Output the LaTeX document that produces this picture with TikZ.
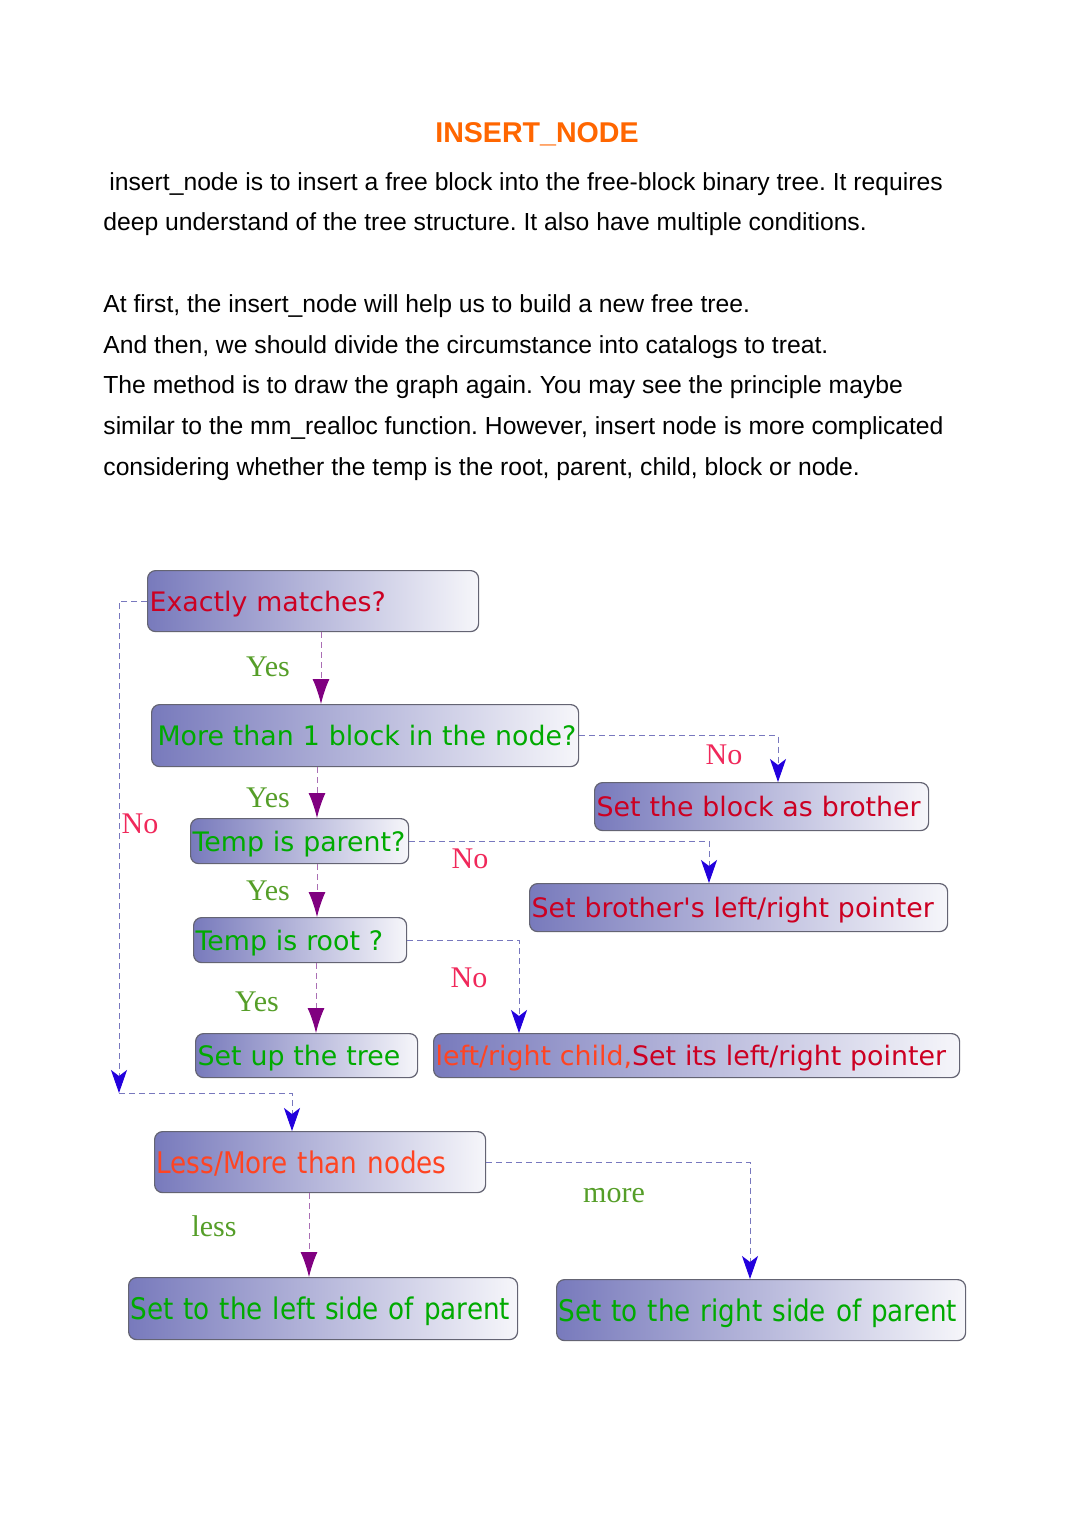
\documentclass[tikz,border=0pt]{standalone}
\usepackage{fontspec}
\setmainfont{Liberation Sans}
\newfontfamily\boxfont{DejaVu Sans}
\newfontfamily\condfont[FakeStretch=0.88]{DejaVu Sans}
\newfontfamily\labfont{Liberation Serif}
\usetikzlibrary{arrows.meta}
\definecolor{titleorange}{RGB}{255,102,0}
\definecolor{boxred}{RGB}{204,0,34}
\definecolor{boxgreen}{RGB}{0,170,0}
\definecolor{boxorange}{RGB}{255,68,34}
\definecolor{yesgreen}{RGB}{85,158,40}
\definecolor{nopink}{RGB}{240,40,90}
\definecolor{arrpurple}{RGB}{128,0,128}
\definecolor{arrblue}{RGB}{34,0,221}
\definecolor{boxdark}{RGB}{120,122,188}
\definecolor{boxlight}{RGB}{246,246,250}
\definecolor{boxborder}{RGB}{100,100,115}
\definecolor{lineblue}{RGB}{120,120,190}
\definecolor{linepurple}{RGB}{170,110,180}
\frenchspacing
\begin{document}
\begin{tikzpicture}[x=0.5pt,y=-0.5pt,
  box/.style={draw=boxborder, line width=0.6pt, rounded corners=4pt,
    left color=boxdark, right color=boxlight, anchor=north west,
    inner xsep=1pt, inner ysep=0pt, align=left, text depth=0pt,
    font=\boxfont\fontsize{13.4pt}{16pt}\selectfont},
  cbox/.style={box, font=\condfont\fontsize{14.9pt}{18pt}\selectfont},
  para/.style={anchor=mid west, inner sep=0pt, font=\frenchspacing\fontsize{12.35pt}{15pt}\selectfont},
  yeslab/.style={text=yesgreen, inner sep=0pt, font=\labfont\fontsize{15pt}{18pt}\selectfont},
  nolab/.style={text=nopink, inner sep=0pt, font=\labfont\fontsize{15pt}{18pt}\selectfont},
  dln/.style={draw=lineblue, line width=0.5pt, dash pattern=on 3pt off 2pt,
    -{Stealth[length=11.5pt,width=8pt,inset=3pt,color=arrblue]}},
  dly/.style={draw=linepurple, line width=0.5pt, dash pattern=on 3pt off 2pt,
    -{Latex[length=12.5pt,width=8.5pt,color=arrpurple]}}
]
\useasboundingbox (0,0) rectangle (1074,1520);
\fill[white] (0,0) rectangle (1074,1520);

% title and text
\node[text=titleorange, font=\bfseries\fontsize{14.3pt}{17pt}\selectfont] (title) at (537,134) {INSERT\_NODE};
\node[para] (p1) at (109,185) {insert\_node is to insert a free block into the free-block binary tree. It requires};
\node[para] (p2) at (103,225) {deep understand of the tree structure. It also have multiple conditions.};
\node[para] (p3) at (103,307) {At first, the insert\_node will help us to build a new free tree.};
\node[para] (p4) at (103,348) {And then, we should divide the circumstance into catalogs to treat.};
\node[para] (p5) at (103,388) {The method is to draw the graph again. You may see the principle maybe};
\node[para] (p6) at (103,429) {similar to the mm\_realloc function. However, insert node is more complicated};
\node[para] (p7) at (103,470) {considering whether the temp is the root, parent, child, block or node.};

% boxes
\node[box, text=boxred, text width=163.5pt, minimum height=30.5pt] (exact) at (147,570) {\mbox{Exactly matches?}};
\node[box, text=boxgreen, inner xsep=3pt, text width=207.5pt, minimum height=31pt] (more) at (151,704) {\mbox{More than 1 block in the node?}};
\node[box, text=boxred, text width=165pt, minimum height=24pt] (brother) at (594,782) {\mbox{Set the block as brother}};
\node[box, text=boxgreen, text width=107pt, minimum height=22.5pt] (tparent) at (190,818) {\mbox{Temp is parent?}};
\node[box, text=boxred, text width=207pt, minimum height=24pt] (brptr) at (529,883) {\mbox{Set brother's left/right pointer}};
\node[box, text=boxgreen, text width=104.5pt, minimum height=22.5pt] (troot) at (193,917) {\mbox{Temp is root ?}};
\node[box, text=boxgreen, text width=109pt, minimum height=22pt] (setup) at (195,1033) {\mbox{Set up the tree}};
\node[box, text=boxred, text width=261pt, minimum height=22pt] (child) at (433,1033) {\mbox{\textcolor{boxorange}{left/right child,}Set its left/right pointer}};
\node[cbox, text=boxorange, text width=163.5pt, minimum height=30.5pt] (lessmore) at (154,1131) {\mbox{Less/More than nodes}};
\node[cbox, text=boxgreen, text width=192.5pt, minimum height=31pt] (left) at (128,1277) {\mbox{Set to the left side of parent}};
\node[cbox, text=boxgreen, text width=202.5pt, minimum height=30.5pt] (right) at (556,1279) {\mbox{Set to the right side of parent}};

% helper coordinates
\coordinate (c1) at (119,1093);
\coordinate (xa) at (321,0);
\coordinate (xb) at (778,0);
\coordinate (xc) at (317,0);
\coordinate (xd) at (709,0);
\coordinate (xe) at (519,0);
\coordinate (xf) at (316,0);
\coordinate (xg) at (292,0);
\coordinate (xh) at (750,0);
\coordinate (xi) at (309,0);

% connectors
\draw[dln] (exact.west) -| (c1);
\draw[dln] (c1) -| (lessmore.north -| xg);
\draw[dly] (exact.south -| xa) -- (more.north -| xa);
\draw[dln] (more.east) -| (brother.north -| xb);
\draw[dly] (more.south -| xc) -- (tparent.north -| xc);
\draw[dln] (tparent.east) -| (brptr.north -| xd);
\draw[dly] (tparent.south -| xc) -- (troot.north -| xc);
\draw[dln] (troot.east) -| (child.north -| xe);
\draw[dly] (troot.south -| xf) -- (setup.north -| xf);
\draw[dln] (lessmore.east) -| (right.north -| xh);
\draw[dly] (lessmore.south -| xi) -- (left.north -| xi);

% labels
\node[yeslab] (y1) at (268,667) {Yes};
\node[nolab] (n1) at (724,755) {No};
\node[yeslab] (y2) at (268,798) {Yes};
\node[nolab] (n0) at (140,824) {No};
\node[nolab] (n2) at (470,859) {No};
\node[yeslab] (y3) at (268,891) {Yes};
\node[nolab] (n3) at (469,978) {No};
\node[yeslab] (y4) at (257,1002) {Yes};
\node[yeslab] (lmore) at (614,1196) {more};
\node[yeslab] (lless) at (214,1226) {less};
\end{tikzpicture}
\end{document}
